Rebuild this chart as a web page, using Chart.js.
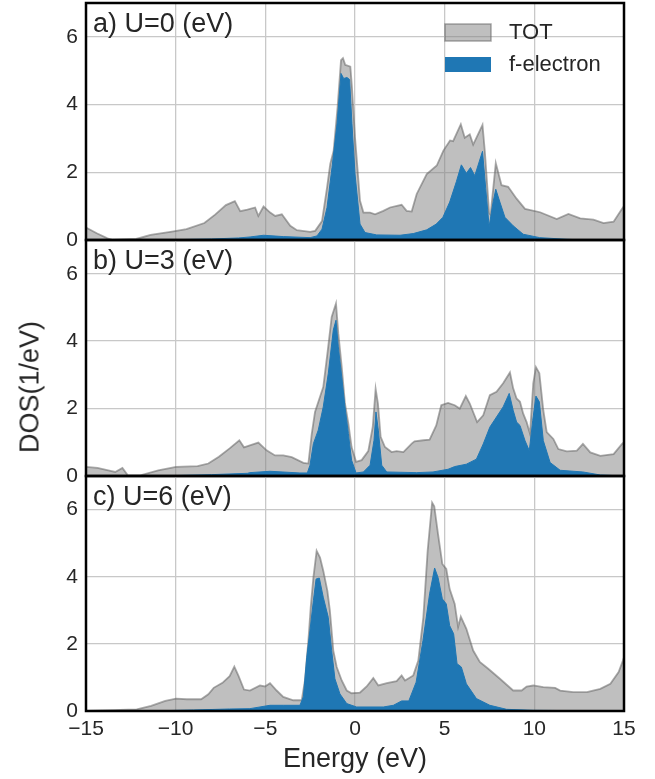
<!DOCTYPE html>
<html>
<head>
<meta charset="utf-8">
<title>DOS vs U</title>
<script src="https://cdn.jsdelivr.net/npm/chart.js@4.4.1/dist/chart.umd.min.js"></script>
<style>
  body { margin: 0; background: #fff; }
  #wrap { position: relative; width: 655px; height: 779px; font-family: 'Liberation Sans', Arial, sans-serif; }
  #wrap canvas { position: absolute; left: 0; }
  #ylab { position: absolute; left: 30px; top: 387px; transform: translate(-50%, -50%) rotate(-90deg);
          font-size: 27px; color: #262626; white-space: nowrap; }
</style>
</head>
<body>
<div id="wrap">
  <canvas id="panelA" width="655" height="262" style="top:0px"></canvas>
  <canvas id="panelB" width="655" height="270" style="top:228px"></canvas>
  <canvas id="panelC" width="655" height="315" style="top:464px"></canvas>
  <div id="ylab">DOS(1/eV)</div>
</div>
<script>
// energies (eV) and DOS (1/eV)
const E_TOT_A = [-15, -14.4, -13.8, -13.5, -12.2, -11.4, -10.2, -9.4, -8.4, -7.8, -7.2, -6.7, -6.4, -6.0, -5.57, -5.39, -5.1, -4.73, -4.45, -4.08, -3.61, -3.24, -2.5, -2.22, -1.84, -1.56, -1.38, -1.19, -0.97, -0.78, -0.67, -0.54, -0.35, -0.26, -0.17, 0.0, 0.28, 0.47, 0.84, 1.12, 1.58, 1.95, 2.6, 2.88, 3.16, 3.44, 4.0, 4.56, 4.93, 5.3, 5.47, 5.9, 6.12, 6.4, 6.59, 7.11, 7.24, 7.48, 7.56, 7.85, 8.17, 8.54, 9.01, 9.48, 10.32, 11.25, 11.9, 12.56, 13.3, 13.86, 14.42, 14.89, 15];
const TOT_A = [0.37, 0.2, 0.05, 0, 0.03, 0.15, 0.25, 0.32, 0.5, 0.75, 1.03, 1.15, 0.85, 0.9, 0.96, 0.71, 0.99, 0.81, 0.71, 0.76, 0.42, 0.29, 0.24, 0.27, 0.56, 1.55, 2.25, 2.64, 3.93, 5.31, 5.37, 5.17, 5.14, 5.12, 4.52, 3.04, 1.16, 0.81, 0.81, 0.76, 0.86, 0.96, 1.04, 0.86, 0.84, 1.36, 1.95, 2.2, 2.64, 2.94, 2.92, 3.42, 3.02, 3.12, 2.82, 3.4, 2.62, 0.8, 0.75, 2.27, 1.62, 1.57, 1.22, 0.92, 0.82, 0.62, 0.77, 0.64, 0.6, 0.5, 0.54, 0.92, 1.0];
const E_F_A = [-15, -11, -8, -6.5, -5.85, -5.1, -3.98, -2.5, -2.12, -1.84, -1.56, -1.28, -1.0, -0.78, -0.63, -0.45, -0.3, -0.17, 0.0, 0.28, 0.56, 1.21, 2.51, 3.25, 4.0, 4.53, 4.9, 5.28, 5.65, 5.93, 6.21, 6.44, 6.68, 7.11, 7.29, 7.48, 7.7, 7.85, 8.08, 8.36, 8.82, 9.38, 10.3, 11.8, 12.9, 15];
const F_A = [0, 0, 0.03, 0.06, 0.09, 0.14, 0.1, 0.07, 0.12, 0.32, 0.96, 2.15, 3.44, 4.92, 4.77, 4.8, 4.74, 3.44, 1.95, 0.47, 0.22, 0.15, 0.14, 0.19, 0.3, 0.47, 0.67, 1.12, 1.72, 2.22, 1.97, 2.14, 1.9, 2.62, 1.52, 0.4, 1.12, 1.5, 1.12, 0.67, 0.42, 0.17, 0.07, 0.02, 0, 0];

const E_TOT_B = [-15, -14.36, -13.76, -13.37, -12.97, -12.67, -11.97, -10.97, -9.98, -8.78, -8.18, -7.59, -6.99, -6.45, -6.19, -5.86, -5.39, -4.93, -4.46, -4.0, -3.53, -2.88, -2.6, -2.41, -2.23, -1.95, -1.77, -1.54, -1.3, -1.06, -0.93, -0.74, -0.56, -0.37, -0.19, 0.06, 0.37, 0.74, 0.99, 1.15, 1.28, 1.43, 1.67, 2.04, 2.32, 2.7, 3.16, 3.32, 3.81, 4.16, 4.53, 4.81, 5.19, 5.56, 5.84, 6.18, 6.4, 6.81, 7.15, 7.52, 7.89, 8.26, 8.64, 8.82, 9.01, 9.2, 9.38, 9.57, 9.76, 9.94, 10.09, 10.28, 10.5, 10.69, 11.06, 11.34, 11.81, 12.37, 12.71, 13.12, 13.68, 14.42, 14.89, 15];
const TOT_B = [0.27, 0.24, 0.17, 0.12, 0.24, 0.02, 0.02, 0.17, 0.27, 0.29, 0.37, 0.57, 0.82, 1.06, 0.85, 0.91, 0.99, 0.76, 0.61, 0.61, 0.56, 0.39, 0.37, 1.26, 1.9, 2.35, 2.64, 3.63, 4.72, 5.12, 4.23, 3.24, 2.15, 1.55, 0.86, 0.42, 0.47, 0.74, 1.46, 2.59, 2.15, 1.16, 0.86, 0.71, 0.74, 0.71, 0.96, 1.03, 1.06, 1.08, 1.5, 2.1, 2.17, 2.1, 2.0, 2.37, 2.15, 1.6, 1.8, 2.4, 2.5, 2.75, 3.07, 2.6, 2.3, 2.2, 1.85, 1.6, 1.25, 2.75, 3.23, 3.05, 1.95, 1.3, 1.1, 0.8, 0.73, 0.75, 0.95, 0.7, 0.6, 0.65, 0.95, 1.0];
const E_F_B = [-15, -11, -8, -6, -5.86, -4.74, -3.07, -2.66, -2.51, -2.32, -2.05, -1.77, -1.49, -1.21, -1.06, -0.93, -0.74, -0.56, -0.37, -0.19, 0.06, 0.47, 0.84, 1.06, 1.17, 1.3, 1.49, 1.77, 3.44, 4.35, 5.19, 5.56, 6.21, 6.77, 7.15, 7.52, 7.89, 8.26, 8.6, 8.82, 9.01, 9.2, 9.48, 9.72, 9.91, 10.09, 10.28, 10.5, 10.88, 11.44, 12.71, 13.68, 15];
const F_B = [0, 0, 0.04, 0.08, 0.1, 0.14, 0.09, 0.09, 0.32, 0.96, 1.36, 2.05, 3.04, 4.33, 4.62, 3.83, 2.94, 2.05, 1.26, 0.47, 0.09, 0.12, 0.32, 1.06, 1.9, 1.36, 0.32, 0.12, 0.1, 0.12, 0.2, 0.28, 0.35, 0.5, 0.95, 1.45, 1.75, 2.05, 2.45, 1.95, 1.6, 1.5, 1.05, 0.75, 1.65, 2.37, 2.2, 1.05, 0.4, 0.17, 0.12, 0.03, 0];

const E_TOT_C = [-15, -12.17, -11.37, -10.58, -9.98, -9.38, -8.58, -8.18, -7.88, -7.39, -6.99, -6.73, -6.49, -6.19, -5.86, -5.3, -5.02, -4.74, -4.37, -4.0, -3.44, -2.97, -2.79, -2.6, -2.47, -2.32, -2.14, -1.95, -1.77, -1.54, -1.4, -1.21, -1.02, -0.74, -0.46, -0.19, 0.28, 0.65, 1.02, 1.3, 1.77, 2.32, 2.6, 2.79, 3.25, 3.53, 3.81, 4.05, 4.3, 4.42, 4.63, 4.87, 5.09, 5.28, 5.56, 5.75, 5.9, 6.21, 6.59, 6.96, 7.43, 8.08, 8.82, 9.29, 9.57, 9.94, 10.5, 11.16, 11.44, 12.18, 12.93, 13.68, 14.24, 14.7, 14.94, 15];
const TOT_C = [0, 0.05, 0.15, 0.3, 0.37, 0.35, 0.35, 0.5, 0.69, 0.84, 1.04, 1.32, 1.04, 0.64, 0.61, 0.76, 0.73, 0.83, 0.61, 0.42, 0.32, 0.32, 0.91, 2.1, 3.09, 3.98, 4.77, 4.57, 4.18, 3.58, 2.99, 1.8, 1.31, 0.91, 0.61, 0.53, 0.55, 0.73, 0.98, 0.76, 0.83, 0.89, 1.06, 0.91, 1.06, 1.5, 2.79, 4.77, 6.21, 6.1, 5.27, 4.38, 4.23, 3.63, 3.19, 2.5, 2.81, 2.45, 1.8, 1.46, 1.26, 0.96, 0.61, 0.61, 0.73, 0.76, 0.71, 0.69, 0.61, 0.56, 0.56, 0.66, 0.81, 1.16, 1.5, 1.6];
const E_F_C = [-15, -11.5, -9, -7, -5.86, -4.74, -4.0, -3.07, -2.88, -2.69, -2.51, -2.32, -2.17, -1.99, -1.77, -1.49, -1.3, -1.12, -0.84, -0.46, 0.09, 1.58, 2.14, 2.6, 3.0, 3.41, 3.79, 4.16, 4.44, 4.63, 4.87, 5.09, 5.28, 5.5, 5.69, 5.93, 6.21, 6.77, 7.52, 8.45, 9.94, 15];
const F_C = [0, 0, 0.03, 0.06, 0.07, 0.17, 0.17, 0.17, 0.42, 1.6, 2.4, 3.29, 3.93, 3.96, 3.39, 2.79, 1.8, 0.96, 0.51, 0.22, 0.12, 0.12, 0.17, 0.3, 0.3, 0.86, 2.1, 3.49, 4.26, 3.98, 3.34, 3.19, 2.54, 2.3, 1.41, 1.31, 0.81, 0.37, 0.17, 0.05, 0.02, 0];

const PANEL_TITLES = ['a) U=0 (eV)', 'b) U=3 (eV)', 'c) U=6 (eV)'];
const SERIES_NAMES = ['TOT', 'f-electron'];
const X_TICKS = [-15, -10, -5, 0, 5, 10, 15];
const Y_TICKS = [0, 2, 4, 6];

const TEXT = '#262626';
const GRID = '#c8c8c8';
const BLUE = '#1f77b4';
const GREY_FILL = 'rgba(128, 128, 128, 0.5)';
const GREY_LINE = 'rgba(100, 100, 100, 0.55)';

Chart.defaults.font.family = "'Liberation Sans', Arial, sans-serif";
Chart.defaults.color = TEXT;

const pairs = (xs, ys) => xs.map((x, i) => ({x: x, y: ys[i]}));

// black box round each panel + panel caption
const framePlugin = {
    id: 'frame',
    afterDraw(chart, args, opts) {
        const {ctx, chartArea: a} = chart;
        ctx.save();
        ctx.strokeStyle = '#000';
        ctx.lineWidth = 2.5;
        ctx.strokeRect(a.left, a.top, a.right - a.left, a.bottom - a.top);
        ctx.fillStyle = TEXT;
        ctx.font = "27px 'Liberation Sans', Arial, sans-serif";
        ctx.textBaseline = 'middle';
        ctx.fillText(opts.title, a.left + 7, a.top + 22);
        ctx.restore();
    }
};

// legend drawn inside the top panel, upper right
const legendPlugin = {
    id: 'insideLegend',
    afterDraw(chart, args, opts) {
        if (!opts.show) return;
        const {ctx, chartArea: a} = chart;
        const bx = a.right - 179;
        ctx.save();
        ctx.fillStyle = GREY_FILL;
        ctx.fillRect(bx, a.top + 21, 46, 17);
        ctx.strokeStyle = GREY_LINE;
        ctx.lineWidth = 1.5;
        ctx.strokeRect(bx, a.top + 21, 46, 17);
        ctx.fillStyle = BLUE;
        ctx.fillRect(bx, a.top + 54, 46, 15);
        ctx.fillStyle = TEXT;
        ctx.font = "22px 'Liberation Sans', Arial, sans-serif";
        ctx.textBaseline = 'middle';
        ctx.fillText(SERIES_NAMES[0], bx + 64, a.top + 30);
        ctx.fillText(SERIES_NAMES[1], bx + 64, a.top + 62);
        ctx.restore();
    }
};

function buildPanel(el, idx, eTot, tot, eF, f, padTop, padBottom) {
    const isBottom = idx === 2;
    return new Chart(el, {
        type: 'line',
        data: {
            datasets: [
                {
                    label: SERIES_NAMES[1],
                    data: pairs(eF, f),
                    backgroundColor: BLUE,
                    borderColor: BLUE,
                    borderWidth: 1,
                    pointRadius: 0,
                    fill: 'origin'
                },
                {
                    label: SERIES_NAMES[0],
                    data: pairs(eTot, tot),
                    backgroundColor: GREY_FILL,
                    borderColor: GREY_LINE,
                    borderWidth: 1.8,
                    pointRadius: 0,
                    fill: 'origin'
                }
            ]
        },
        options: {
            responsive: false,
            animation: false,
            layout: {padding: {left: 0, right: 31, top: padTop, bottom: padBottom}},
            plugins: {
                legend: {display: false},
                tooltip: {enabled: false},
                frame: {title: PANEL_TITLES[idx]},
                insideLegend: {show: idx === 0}
            },
            scales: {
                x: {
                    type: 'linear',
                    min: X_TICKS[0],
                    max: X_TICKS[X_TICKS.length - 1],
                    afterBuildTicks: s => { s.ticks = X_TICKS.map(v => ({value: v})); },
                    afterFit: s => {
                        s.height = isBottom ? 68 : 0;
                        s.paddingLeft = 0;
                        s.paddingRight = 0;
                    },
                    grid: {color: GRID, lineWidth: 1.3, drawTicks: false},
                    border: {display: false},
                    ticks: {
                        display: isBottom,
                        padding: 6,
                        maxRotation: 0,
                        font: {size: 21},
                        callback: v => (v < 0 ? '\u2212' + Math.abs(v) : String(v))
                    },
                    title: {
                        display: isBottom,
                        text: 'Energy (eV)',
                        font: {size: 27},
                        padding: {top: 0, bottom: 3}
                    }
                },
                y: {
                    min: 0,
                    max: 7,
                    afterBuildTicks: s => { s.ticks = Y_TICKS.map(v => ({value: v})); },
                    afterFit: s => {
                        s.width = 86;
                        s.paddingTop = 0;
                        s.paddingBottom = 0;
                    },
                    grid: {color: GRID, lineWidth: 1.3, drawTicks: false},
                    border: {display: false},
                    ticks: {padding: 8, font: {size: 21}}
                }
            }
        },
        plugins: [framePlugin, legendPlugin]
    });
}

buildPanel(document.getElementById('panelA'), 0, E_TOT_A, TOT_A, E_F_A, F_A, 3, 22);
buildPanel(document.getElementById('panelB'), 1, E_TOT_B, TOT_B, E_F_B, F_B, 12, 22);
buildPanel(document.getElementById('panelC'), 2, E_TOT_C, TOT_C, E_F_C, F_C, 12, 0);
</script>
</body>
</html>
